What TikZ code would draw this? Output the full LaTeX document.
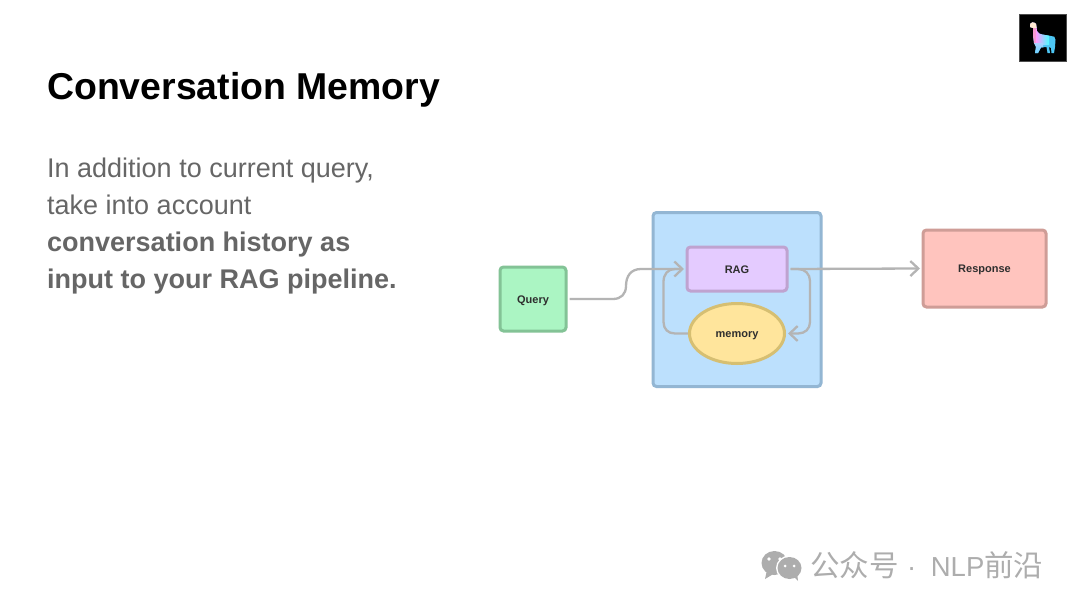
\documentclass[tikz,border=0pt]{standalone}
\usepackage{fontspec}
\setmainfont{Liberation Sans}
\newfontfamily\cjkf{Noto Sans CJK SC}
\usetikzlibrary{arrows.meta,shapes.geometric,calc}
\definecolor{conn}{HTML}{B4B4B4}
\definecolor{bodyg}{HTML}{666666}
\tikzset{
  boxn/.style={draw,line width=3pt,rounded corners=3.5pt,inner sep=0pt,text height=8.5pt,text depth=0pt,font=\fontsize{11}{13}\selectfont\bfseries,text=black!82},
  conn/.style={draw=conn,line width=2.3pt},
  tip/.style={-{Straight Barb[length=8pt,width=15pt,line width=2.3pt]}},
}
\begin{document}
\begin{tikzpicture}[x=1pt,y=-1pt]
\useasboundingbox (0,0) rectangle (1080,608);
\fill[white] (0,0) rectangle (1080,608);
% logo
\node[fill=black,draw=black!70!white,line width=.4pt,minimum width=47pt,minimum height=47pt,inner sep=0pt] (logo) at (1042.5,37.5) {};
\begin{scope}
\clip (1030,25) .. controls (1030.5,22) and (1034,21.5) .. (1036,24) -- (1037,31) .. controls (1038,33.5) and (1040,34) .. (1042,34.5) -- (1051,36) .. controls (1054,35.5) and (1055.5,37) .. (1055.5,40) -- (1055,47) -- (1054,53) -- (1051.5,53) -- (1051,48) -- (1049,47) -- (1050,53) -- (1047.5,53) -- (1046.5,47) -- (1041,47.5) -- (1038,53) -- (1035,53) -- (1036,47) -- (1034,43) -- (1033,36) -- (1033,28) -- (1030,27) -- cycle;
\fill[cyan!70!white] (1025,18) rectangle (1060,56);
\shade[left color=magenta!40!white,right color=cyan!70!white] (1036,18) rectangle (1049,44);
\fill[magenta!40!white] (1025,18) rectangle (1036,44);
\fill[orange!18!white] (1028,20) rectangle (1038,28);
\shade[top color=magenta!35!cyan!50!white,bottom color=cyan!70!blue!60!white] (1030,43) rectangle (1043,54);
\end{scope}
% title and text
\node[anchor=base west,inner sep=0pt,font=\fontsize{37.4}{37}\selectfont\bfseries] (title) at (47,99) {Conversation Memory};
\node[anchor=base west,inner sep=0pt,text=bodyg,font=\fontsize{27}{27}\selectfont] (l1) at (47,177) {In addition to current query,};
\node[anchor=base west,inner sep=0pt,text=bodyg,font=\fontsize{27}{27}\selectfont] (l2) at (47,214) {take into account};
\node[anchor=base west,inner sep=0pt,text=bodyg,font=\fontsize{27}{27}\selectfont\bfseries] (l3) at (47,251) {conversation history as};
\node[anchor=base west,inner sep=0pt,text=bodyg,font=\fontsize{27}{27}\selectfont\bfseries] (l4) at (47,288) {input to your RAG pipeline.};
% diagram
\node[boxn,draw={rgb,255:red,147;green,182;blue,211},fill={rgb,255:red,188;green,224;blue,253},minimum width=168pt,minimum height=174pt] (outer) at (737,299.5) {};
\node[boxn,draw={rgb,255:red,131;green,195;blue,150},fill={rgb,255:red,171;green,245;blue,195},minimum width=66pt,minimum height=64pt] (query) at (533,299) {Query};
\node[boxn,draw={rgb,255:red,191;green,163;blue,208},fill={rgb,255:red,228;green,203;blue,255},minimum width=100pt,minimum height=44pt] (rag) at (737,269) {RAG};
\node[boxn,ellipse,draw={rgb,255:red,214;green,191;blue,114},fill={rgb,255:red,255;green,229;blue,156},minimum width=95pt,minimum height=60pt] (mem) at (737,333.5) {memory};
\node[boxn,draw={rgb,255:red,207;green,157;blue,151},fill={rgb,255:red,255;green,196;blue,190},minimum width=123pt,minimum height=77pt] (resp) at (984.5,268.5) {Response};
% connectors
\draw[conn,tip] ($(query.east)+(2,0)$) -- (613,299) .. controls (621,299) and (626,294) .. (626,286) .. controls (626,276) and (631,269) .. (641,269) -- ($(rag.west)+(-1.5,0)$);
\draw[conn] (mem.west) -- (675,333.5) .. controls (668,333.5) and (663.5,329) .. (663.5,322) -- (663.5,282) .. controls (663.5,274) and (668,269) .. (675,269) -- ($(rag.west)+(-5,0)$);
\draw[conn,tip] ($(rag.east)+(2,0)$) -- (798,269) .. controls (805,269) and (810,274) .. (810,281) -- (810,322) .. controls (810,329) and (805,333.5) .. (798,333.5) -- ($(mem.east)+(2,0)$);
\draw[conn,tip] ($(rag.east)+(2,0)$) -- ($(resp.west)+(-1.5,0)$);
% watermark
\fill[black!32] (774.5,563) ellipse (13pt and 12pt);
\fill[black!32] (767,570) -- (765,579) -- (775,573) -- cycle;
\fill[white] (789.5,568) ellipse (13.5pt and 12.5pt);
\fill[black!32] (789.5,568) ellipse (12pt and 11pt);
\fill[black!32] (793,576) -- (798,581) -- (797,572) -- cycle;
\fill[white] (769,559) circle (1.8pt) (780,559) circle (1.8pt) (785,566) circle (1.5pt) (794,566) circle (1.5pt);
\node[anchor=base west,inner sep=0pt,text=black!32,font=\fontsize{27.5}{27}\selectfont] (wm) at (810,576) {{\cjkf\fontsize{29.5}{29}\selectfont 公众号}\hspace{8.5pt}·\hspace{14.5pt}NLP{\cjkf\fontsize{29.5}{29}\selectfont 前沿}};
\end{tikzpicture}
\end{document}
